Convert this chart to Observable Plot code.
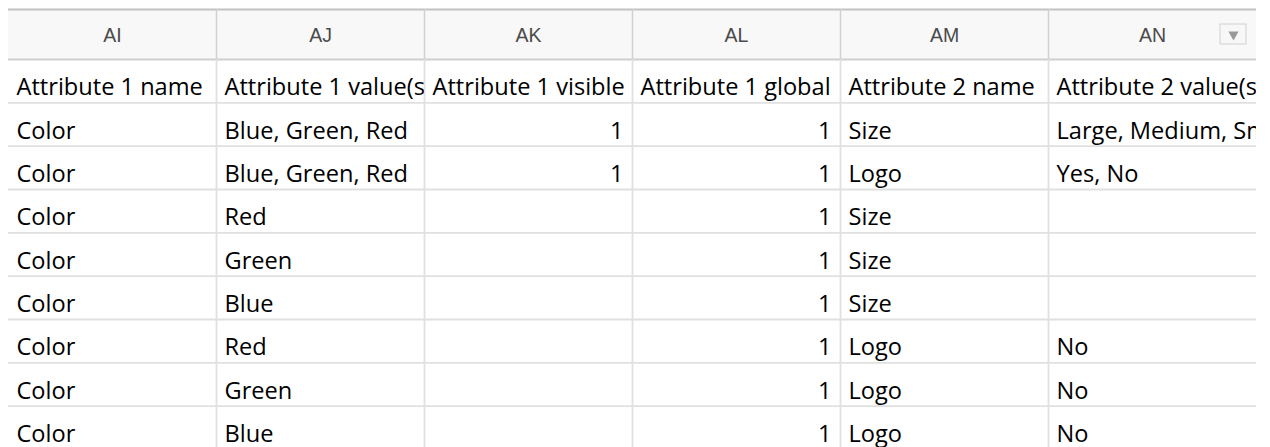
<!DOCTYPE html>
<html>
<head>
<meta charset="utf-8">
<script src="https://cdn.jsdelivr.net/npm/d3@7"></script>
<script src="https://cdn.jsdelivr.net/npm/@observablehq/plot@0.6"></script>
<style>
  html, body { margin: 0; padding: 0; background: #fff; }
  #chart { width: 1270px; height: 447px; overflow: hidden; }
</style>
</head>
<body>
<div id="chart"></div>
<script>
// ---- data ----
const columnLetters = ["AI", "AJ", "AK", "AL", "AM", "AN"];
const headerNames = ["Attribute 1 name", "Attribute 1 value(s)", "Attribute 1 visible", "Attribute 1 global", "Attribute 2 name", "Attribute 2 value(s)"];
const attr1Name = ["Color", "Color", "Color", "Color", "Color", "Color", "Color", "Color"];
const attr1Values = ["Blue, Green, Red", "Blue, Green, Red", "Red", "Green", "Blue", "Red", "Green", "Blue"];
const attr1Visible = [1, 1, null, null, null, null, null, null];
const attr1Global = [1, 1, 1, 1, 1, 1, 1, 1];
const attr2Name = ["Size", "Logo", "Size", "Size", "Size", "Logo", "Logo", "Logo"];
const attr2Values = ["Large, Medium, Small", "Yes, No", "", "", "", "No", "No", "No"];

// ---- table built from the arrays ----
const table = [headerNames, ...attr1Name.map((_, i) => [attr1Name[i], attr1Values[i], attr1Visible[i], attr1Global[i], attr2Name[i], attr2Values[i]])];
const cells = table.flatMap((row, r) => row.map((v, c) => ({col: columnLetters[c], row: r, value: v})))
  .filter(d => d.value !== null && d.value !== "");
const textCells = cells.filter(d => typeof d.value === "string");
const numCells = cells.filter(d => typeof d.value === "number");
const nRows = table.length;

// ---- layout ----
const W = 1270, H = 447;
const rowPx = 43.33, headerPx = 50, topPx = 9;
const hu = headerPx / rowPx; // header band height in row units
const bottomMargin = H - (topPx + headerPx + nRows * rowPx);

const body = {fontFamily: "'Open Sans', sans-serif", fontSize: 23.6, fill: "#000", clip: true};

const chart = Plot.plot({
  width: W,
  height: H,
  marginTop: topPx,
  marginLeft: 7,
  marginRight: 13,
  marginBottom: bottomMargin,
  style: {background: "transparent", fontFamily: "'Liberation Sans', sans-serif"},
  fx: {domain: columnLetters, padding: 0, axis: null},
  x: {domain: [0, 1], axis: null},
  y: {domain: [-hu, nRows], reverse: true, axis: null},
  marks: [
    // header band
    Plot.rect(columnLetters, {fx: d => d, x1: 0, x2: 1, y1: -hu, y2: 0, fill: "#f8f8f8"}),
    // horizontal grid lines
    Plot.ruleY(d3.range(1, nRows + 1), {stroke: "#e0e0e0", strokeWidth: 1.8}),
    Plot.ruleY([-hu], {stroke: "#c2c2c2", strokeWidth: 2}),
    Plot.ruleY([0], {stroke: "#cecece", strokeWidth: 2}),
    // vertical grid lines
    Plot.ruleX(columnLetters.slice(1), {fx: d => d, x: 0, y1: -hu, y2: 0, stroke: "#d0d0d0", strokeWidth: 1.5}),
    Plot.ruleX(columnLetters.slice(1), {fx: d => d, x: 0, y1: 0, y2: nRows, stroke: "#e0e0e0", strokeWidth: 1.8}),
    // column letters
    Plot.text(columnLetters, {fx: d => d, x: 0.5, y: -hu / 2, text: d => d, fontSize: 19.5, fill: "#4a4a4a", dy: 1}),
    // filter dropdown in last column header
    Plot.rect(columnLetters.slice(-1), {fx: d => d, x1: 1, x2: 1, y1: -hu / 2, y2: -hu / 2,
      insetLeft: -36, insetRight: 10, insetTop: -10, insetBottom: -10, fill: "#f7f7f7", stroke: "#d8d8d8", strokeWidth: 1.2}),
    Plot.dot(columnLetters.slice(-1), {fx: d => d, x: 1, y: -hu / 2, dx: -23, symbol: "triangle", rotate: 180, r: 3.8, fill: "#999", stroke: "none"}),
    // cell texts
    Plot.text(textCells, {fx: "col", x: 0, y: d => d.row + 1, text: "value", textAnchor: "start", lineAnchor: "bottom", dx: 8, dy: -7.5, ...body}),
    Plot.text(numCells, {fx: "col", x: 1, y: d => d.row + 1, text: d => String(d.value), textAnchor: "end", lineAnchor: "bottom", dx: -9, dy: -7.5, ...body})
  ]
});
document.getElementById("chart").append(chart);
</script>
</body>
</html>
